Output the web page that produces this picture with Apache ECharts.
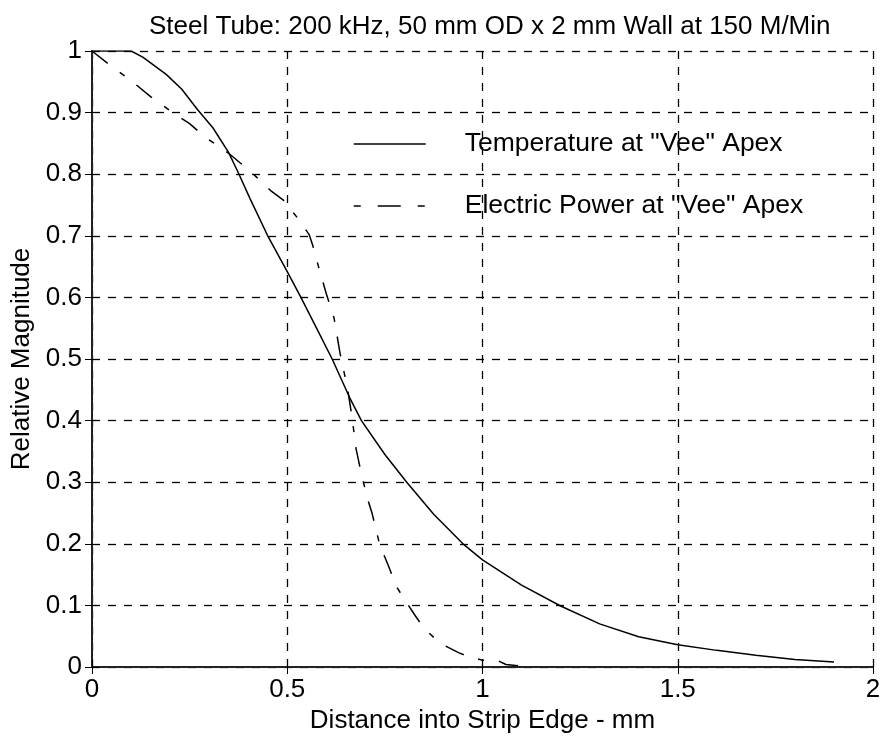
<!DOCTYPE html>
<html>
<head>
<meta charset="utf-8">
<title>Steel Tube: 200 kHz, 50 mm OD x 2 mm Wall at 150 M/Min</title>
<script src="https://cdn.jsdelivr.net/npm/echarts@6/dist/echarts.min.js"></script>
<style>
  html, body { margin: 0; padding: 0; background: #fff; }
  #chart { width: 886px; height: 745px; }
</style>
</head>
<body>
<div id="chart"></div>
<script>
// Distance into strip edge (mm) and relative temperature at the "Vee" apex
const tempX = [0, 0.05, 0.1, 0.13, 0.19, 0.23, 0.27, 0.31, 0.35, 0.375, 0.405, 0.45, 0.5, 0.535, 0.575, 0.615, 0.66, 0.69, 0.75, 0.806, 0.875, 0.95, 1.0, 1.1, 1.2, 1.3, 1.4, 1.5, 1.6, 1.7, 1.8, 1.9];
const tempY = [1, 1, 1, 0.99, 0.962, 0.938, 0.905, 0.875, 0.835, 0.802, 0.76, 0.70, 0.642, 0.6, 0.55, 0.5, 0.437, 0.4, 0.345, 0.3, 0.248, 0.2, 0.174, 0.133, 0.099, 0.07, 0.049, 0.036, 0.027, 0.019, 0.012, 0.008];

// Distance into strip edge (mm) and relative electric power at the "Vee" apex
const powerX = [0, 0.05, 0.1, 0.15, 0.2, 0.25, 0.29, 0.35, 0.41, 0.46, 0.49, 0.53, 0.556, 0.565, 0.58, 0.6, 0.62, 0.635, 0.645, 0.655, 0.666, 0.676, 0.686, 0.704, 0.717, 0.737, 0.758, 0.78, 0.8, 0.827, 0.85, 0.89, 0.94, 0.96, 1.0, 1.04, 1.06, 1.12];
const powerY = [1, 0.975, 0.952, 0.926, 0.903, 0.882, 0.86, 0.834, 0.802, 0.772, 0.758, 0.726, 0.702, 0.685, 0.65, 0.606, 0.566, 0.51, 0.48, 0.45, 0.405, 0.355, 0.325, 0.276, 0.25, 0.198, 0.166, 0.13, 0.11, 0.084, 0.063, 0.039, 0.023, 0.018, 0.011, 0.01, 0.004, 0];

const seriesNames = ['Temperature at "Vee" Apex', 'Electric Power at "Vee" Apex'];
const titleText = 'Steel Tube: 200 kHz, 50 mm OD x 2 mm Wall at 150 M/Min';
const xName = 'Distance into Strip Edge - mm';
const yName = 'Relative Magnitude';

const pairs = (xs, ys) => xs.map((x, i) => [x, ys[i]]);

const FONT = 'Liberation Sans, Arial, sans-serif';
const INK = '#000';

const frameAxis = {
  axisLine: { show: true, lineStyle: { color: '#222', width: 2 } },
  axisTick: { show: true, inside: true, length: 7, lineStyle: { color: INK, width: 1 } },
};

// legend keys show only the line sample, no point marker
const hiddenMarker = { opacity: 0, color: 'transparent', borderWidth: 0 };

const chart = echarts.init(document.getElementById('chart'), null, { renderer: 'canvas' });

chart.setOption({
  backgroundColor: '#fff',
  animation: false,
  title: {
    text: titleText,
    left: 144,
    top: 9,
    textStyle: { fontFamily: FONT, fontSize: 26, fontWeight: 'normal', color: INK }
  },
  grid: { left: 92, right: 13, top: 51, bottom: 78, containLabel: false },
  legend: {
    orient: 'vertical',
    left: 348,
    top: 125,
    itemWidth: 72,
    itemHeight: 14,
    itemGap: 34,
    data: [
      { name: seriesNames[0], itemStyle: hiddenMarker, lineStyle: { type: 'solid', width: 1.5, color: INK } },
      { name: seriesNames[1], itemStyle: hiddenMarker, lineStyle: { type: [7, 17, 23, 17], width: 1.5, color: INK } }
    ],
    formatter: name => '{g|}' + name,
    textStyle: {
      fontFamily: FONT, fontSize: 26.5, color: INK, lineHeight: 28,
      rich: { g: { width: 34 } }
    },
    selectedMode: false
  },
  xAxis: [
    Object.assign({
      type: 'value', min: 0, max: 2, interval: 0.5,
      position: 'bottom',
      name: xName, nameLocation: 'middle', nameGap: 41,
      nameTextStyle: { fontFamily: FONT, fontSize: 26, color: INK },
      axisLabel: { margin: 10, fontFamily: FONT, fontSize: 26, color: INK },
      splitLine: { show: true, lineStyle: { color: INK, width: 1.3, type: [8, 8] } }
    }, frameAxis),
    Object.assign({
      type: 'value', min: 0, max: 2, interval: 0.5,
      position: 'top',
      axisLabel: { show: false },
      splitLine: { show: false }
    }, frameAxis)
  ],
  yAxis: [
    Object.assign({
      type: 'value', min: 0, max: 1, interval: 0.1,
      position: 'left',
      name: yName, nameLocation: 'middle', nameGap: 54, nameRotate: 90,
      nameTextStyle: { fontFamily: FONT, fontSize: 26, color: INK },
      axisLabel: { margin: 10, fontFamily: FONT, fontSize: 26, color: INK },
      splitLine: { show: true, lineStyle: { color: INK, width: 1.3, type: [8, 8] } }
    }, frameAxis),
    Object.assign({
      type: 'value', min: 0, max: 1, interval: 0.1,
      position: 'right',
      axisLabel: { show: false },
      splitLine: { show: false }
    }, frameAxis)
  ],
  series: [
    {
      name: seriesNames[0],
      type: 'line',
      data: pairs(tempX, tempY),
      showSymbol: false, symbol: 'none',
      lineStyle: { color: INK, width: 1.5, type: 'solid' },
      itemStyle: { color: INK },
      z: 5
    },
    {
      name: seriesNames[1],
      type: 'line',
      data: pairs(powerX, powerY),
      showSymbol: false, symbol: 'none',
      lineStyle: { color: INK, width: 1.5, type: [20, 15, 6, 15] },
      itemStyle: { color: INK },
      z: 5
    }
  ]
});
</script>
</body>
</html>
